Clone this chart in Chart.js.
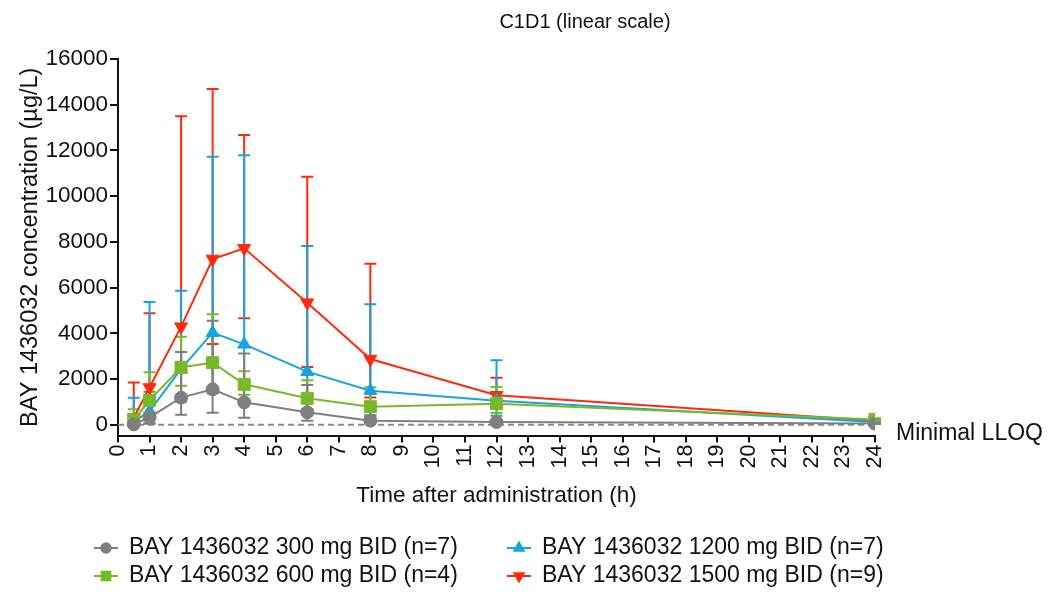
<!DOCTYPE html>
<html>
<head>
<meta charset="utf-8">
<script src="https://cdn.jsdelivr.net/npm/chart.js@4.4.1/dist/chart.umd.min.js"></script>
<style>
  html, body { margin: 0; padding: 0; background: #fff; }
  #wrap { width: 1054px; height: 592px; }
</style>
</head>
<body>
<div id="wrap"><canvas id="pkChart" width="1054" height="592"></canvas></div>
<script>
// sampling times (h)
const timePoints = [0.5, 1, 2, 3, 4, 6, 8, 12, 24];

// concentrations (µg/L): mean, upper and lower error
const mean300  = [30, 335, 1195, 1560, 990, 555, 190, 130, 60];
const upper300 = [120, 1456, 3190, 4560, 3130, 1750, 400, 190, 80];
const lower300 = [5, 60, 450, 540, 320, 190, 60, 80, 40];

const mean600  = [220, 1080, 2520, 2725, 1778, 1166, 801, 933, 240];
const upper600 = [685, 2300, 3861, 4838, 2346, 1950, 1647, 1661, 290];
const lower600 = [70, 510, 1720, 1535, 1326, 700, 390, 524, 200];

const mean1200  = [150, 600, 2450, 4036, 3526, 2331, 1501, 1064, 130];
const upper1200 = [1190, 5380, 5872, 11730, 11789, 7825, 5275, 2827, 170];
const lower1200 = [20, 67, 1020, 1390, 1055, 685, 427, 408, 100];

const mean1500  = [320, 1640, 4298, 7257, 7723, 5348, 2885, 1300, 190];
const upper1500 = [1860, 4883, 13494, 14689, 12678, 10856, 7053, 2070, 240];
const lower1500 = [55, 550, 1310, 3540, 4663, 2536, 1200, 790, 150];

const doseLabels = [
  'BAY 1436032 300 mg BID (n=7)',
  'BAY 1436032 600 mg BID (n=4)',
  'BAY 1436032 1200 mg BID (n=7)',
  'BAY 1436032 1500 mg BID (n=9)'
];
const yTickValues = [0, 2000, 4000, 6000, 8000, 10000, 12000, 14000, 16000];
const lloqValue = 15;

const FONT = '"Liberation Sans", Arial, Helvetica, sans-serif';
const INK = '#111';

const colors = {
  gray: '#7f7f7f',
  green: '#79b929',
  blue: '#16a3e1',
  red: '#ff2a0c'
};

function makeSeries(label, means, up, low, color, style, radius, rotation) {
  return {
    label: label,
    data: timePoints.map((t, i) => ({ x: t, y: means[i] })),
    errUpper: up,
    errLower: low,
    borderColor: color,
    backgroundColor: color,
    borderWidth: 2,
    pointStyle: style,
    pointRadius: radius,
    pointRotation: rotation,
    pointBorderWidth: 1,
    pointBackgroundColor: color,
    pointBorderColor: color,
    tension: 0,
    fill: false
  };
}

// error bars and LLOQ line, drawn under the series
const errorBars = {
  id: 'errorBars',
  beforeDatasetsDraw(chart) {
    const { ctx, scales: { x, y } } = chart;
    ctx.save();
    // LLOQ dashed line
    ctx.strokeStyle = '#8a8a8a';
    ctx.lineWidth = 2;
    ctx.setLineDash([6, 4]);
    ctx.beginPath();
    ctx.moveTo(x.getPixelForValue(0), y.getPixelForValue(lloqValue));
    ctx.lineTo(x.getPixelForValue(24), y.getPixelForValue(lloqValue));
    ctx.stroke();
    ctx.setLineDash([]);

    for (let d = chart.data.datasets.length - 1; d >= 0; d--) {
      const ds = chart.data.datasets[d];
      ctx.strokeStyle = ds.borderColor;
      ctx.lineWidth = 2;
      ds.data.forEach((p, i) => {
        const px = x.getPixelForValue(p.x);
        const top = y.getPixelForValue(ds.errUpper[i]);
        const bot = y.getPixelForValue(ds.errLower[i]);
        ctx.beginPath();
        ctx.moveTo(px, top);
        ctx.lineTo(px, bot);
        ctx.moveTo(px - 6, top);
        ctx.lineTo(px + 6, top);
        ctx.moveTo(px - 6, bot);
        ctx.lineTo(px + 6, bot);
        ctx.stroke();
      });
    }
    ctx.restore();
  }
};

// title, LLOQ label and legend
const decorations = {
  id: 'decorations',
  afterDraw(chart) {
    const { ctx } = chart;
    ctx.save();
    ctx.fillStyle = INK;
    ctx.textBaseline = 'middle';
    ctx.font = '20px ' + FONT;
    ctx.textAlign = 'center';
    ctx.fillText('C1D1 (linear scale)', 585, 22);

    ctx.font = '23px ' + FONT;
    ctx.textAlign = 'left';
    ctx.fillText('Minimal LLOQ', 896, 434);

    // legend: 2 columns, gray/blue on top row, green/red below
    const slots = [
      { ds: 0, cx: 106, cy: 548 },
      { ds: 2, cx: 519, cy: 548 },
      { ds: 1, cx: 106, cy: 576 },
      { ds: 3, cx: 519, cy: 576 }
    ];
    slots.forEach(s => {
      const ds = chart.data.datasets[s.ds];
      ctx.strokeStyle = ds.borderColor;
      ctx.fillStyle = ds.borderColor;
      ctx.lineWidth = 2;
      ctx.beginPath();
      ctx.moveTo(s.cx - 12, s.cy);
      ctx.lineTo(s.cx + 12, s.cy);
      ctx.stroke();
      Chart.helpers.drawPoint(ctx, {
        pointStyle: ds.pointStyle,
        rotation: ds.pointRotation,
        radius: ds.pointRadius * 0.72,
        borderWidth: 1
      }, s.cx, s.cy);
      ctx.fillStyle = INK;
      ctx.font = '23px ' + FONT;
      ctx.fillText(doseLabels[s.ds], s.cx + 23, s.cy);
    });
    ctx.restore();
  }
};

new Chart(document.getElementById('pkChart').getContext('2d'), {
  type: 'line',
  data: {
    datasets: [
      makeSeries(doseLabels[0], mean300, upper300, lower300, colors.gray, 'circle', 6.5, 0),
      makeSeries(doseLabels[1], mean600, upper600, lower600, colors.green, 'rect', 8.5, 0),
      makeSeries(doseLabels[2], mean1200, upper1200, lower1200, colors.blue, 'triangle', 7.5, 0),
      makeSeries(doseLabels[3], mean1500, upper1500, lower1500, colors.red, 'triangle', 7.5, 180)
    ]
  },
  options: {
    responsive: false,
    animation: false,
    devicePixelRatio: 1,
    layout: { padding: { left: 0, top: 59, right: 179, bottom: 80 } },
    plugins: {
      legend: { display: false },
      tooltip: { enabled: false }
    },
    scales: {
      x: {
        type: 'linear',
        min: 0,
        max: 24,
        afterFit(scale) { scale.height = 76.5; },
        border: { display: true, color: INK, width: 2 },
        grid: { drawOnChartArea: false, drawTicks: true, tickLength: 7, color: INK, lineWidth: 2 },
        ticks: {
          stepSize: 1,
          autoSkip: false,
          minRotation: 90,
          maxRotation: 90,
          padding: 2,
          color: INK,
          font: { family: FONT, size: 21.5 }
        },
        title: {
          display: true,
          text: 'Time after administration (h)',
          color: INK,
          font: { family: FONT, size: 22.5 },
          padding: { top: 0, bottom: 3 }
        }
      },
      y: {
        type: 'linear',
        min: -460,
        max: 16000,
        afterFit(scale) { scale.width = 118; },
        afterBuildTicks(scale) { scale.ticks = yTickValues.map(v => ({ value: v })); },
        border: { display: true, color: INK, width: 2 },
        grid: { drawOnChartArea: false, drawTicks: true, tickLength: 8, color: INK, lineWidth: 2 },
        ticks: {
          padding: 2,
          color: INK,
          font: { family: FONT, size: 22.5 },
          callback: v => String(v)
        },
        title: {
          display: true,
          text: 'BAY 1436032 concentration (µg/L)',
          color: INK,
          font: { family: FONT, size: 23.5 },
          padding: { top: 16, bottom: 0 }
        }
      }
    }
  },
  plugins: [errorBars, decorations]
});
</script>
</body>
</html>
